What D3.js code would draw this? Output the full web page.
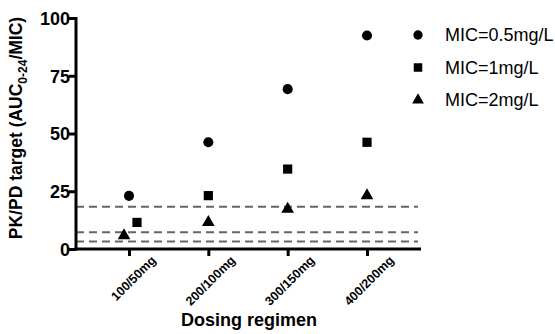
<!DOCTYPE html>
<html>
<head>
<meta charset="utf-8">
<script src="https://cdn.jsdelivr.net/npm/d3@7"></script>
<style>
  body { margin: 0; background: #fff; }
  svg { font-family: "Liberation Sans", Arial, sans-serif; }
</style>
</head>
<body>
<svg id="chart" width="555" height="334"></svg>
<script>
"use strict";
const regimens = ["100/50mg", "200/100mg", "300/150mg", "400/200mg"];
const mic05 = [23, 46.2, 69.2, 92.4];
const mic1 = [11.5, 23.1, 34.6, 46.2];
const mic2 = [5.8, 11.5, 17.3, 23.1];
const jitter05 = [0, 0, 0, 0];
const jitter1 = [8, 0, 0, 0];
const jitter2 = [-5, 0, 0, 0];
const targets = [18.3, 7.2, 3.2];
const yTicks = [0, 25, 50, 75, 100];
const legendLabels = ["MIC=0.5mg/L", "MIC=1mg/L", "MIC=2mg/L"];

const svg = d3.select("#chart");
const plotLeft = 76, plotRight = 421, plotTop = 18, plotBottom = 249;

const y = d3.scaleLinear().domain([0, 100]).range([plotBottom, plotTop]);
const x = d3.scalePoint().domain(regimens).range([129, 367]);

// dashed target lines
svg.append("g").selectAll("line")
    .data(targets).enter().append("line")
    .attr("x1", plotLeft).attr("x2", 418)
    .attr("y1", (d) => y(d)).attr("y2", (d) => y(d))
    .attr("stroke", "#666").attr("stroke-width", 2)
    .attr("stroke-dasharray", "8,5");

// y axis
const yAxis = svg.append("g")
    .attr("transform", `translate(${plotLeft},0)`)
    .call(d3.axisLeft(y).tickValues(yTicks).tickSize(7).tickSizeOuter(0));
yAxis.select(".domain").attr("stroke-width", 3).attr("d", `M0,${plotBottom + 1.5}V${plotTop - 1}`);
yAxis.selectAll(".tick line").attr("stroke-width", 3);
yAxis.selectAll(".tick text")
    .attr("x", -6).attr("dy", "0.36em")
    .style("font-size", "18px").style("font-weight", "bold").attr("fill", "#000");

// x axis
const xAxis = svg.append("g")
    .attr("transform", `translate(0,${plotBottom})`)
    .call(d3.axisBottom(x).tickSize(7).tickSizeOuter(0));
xAxis.select(".domain").attr("stroke-width", 3).attr("d", `M${plotLeft - 1.5},0H${plotRight}`);
xAxis.selectAll(".tick line").attr("stroke-width", 3);
xAxis.selectAll(".tick text")
    .attr("transform", "translate(24,9) rotate(-45)")
    .attr("y", 0).attr("dy", "0.35em")
    .style("text-anchor", "end")
    .style("font-size", "12.5px").style("font-weight", "bold").attr("fill", "#000");

// axis titles
svg.append("text")
    .attr("x", 249).attr("y", 326)
    .attr("text-anchor", "middle")
    .style("font-size", "18px").style("font-weight", "bold")
    .text("Dosing regimen");

const yTitle = svg.append("text")
    .attr("transform", "translate(22,128) rotate(-90)")
    .attr("text-anchor", "middle")
    .style("font-size", "17.5px").style("font-weight", "bold");
yTitle.append("tspan").text("PK/PD target (AUC");
yTitle.append("tspan").attr("dy", 5).style("font-size", "12px").text("0-24");
yTitle.append("tspan").attr("dy", -5).text("/MIC)");

// points
const series = [
    { values: mic05, jitter: jitter05, symbol: d3.symbolCircle, size: 80 },
    { values: mic1, jitter: jitter1, symbol: d3.symbolSquare, size: 85 },
    { values: mic2, jitter: jitter2, symbol: d3.symbolTriangle, size: 70 }
];
series.forEach((s) => {
    svg.append("g").selectAll("path")
        .data(s.values).enter().append("path")
        .attr("d", d3.symbol().type(s.symbol).size(s.size))
        .attr("transform", (d, i) => `translate(${x(regimens[i]) + s.jitter[i]},${y(d)})`)
        .attr("fill", "#000");
});

// legend
const legend = svg.append("g").attr("transform", "translate(418,35)");
series.forEach((s, i) => {
    const row = legend.append("g").attr("transform", `translate(0,${i * 32.5})`);
    row.append("path")
        .attr("d", d3.symbol().type(s.symbol).size(s.size * 0.85))
        .attr("fill", "#000");
    row.append("text")
        .attr("x", 27).attr("dy", "0.36em")
        .style("font-size", "18px")
        .text(legendLabels[i]);
});
</script>
</body>
</html>
